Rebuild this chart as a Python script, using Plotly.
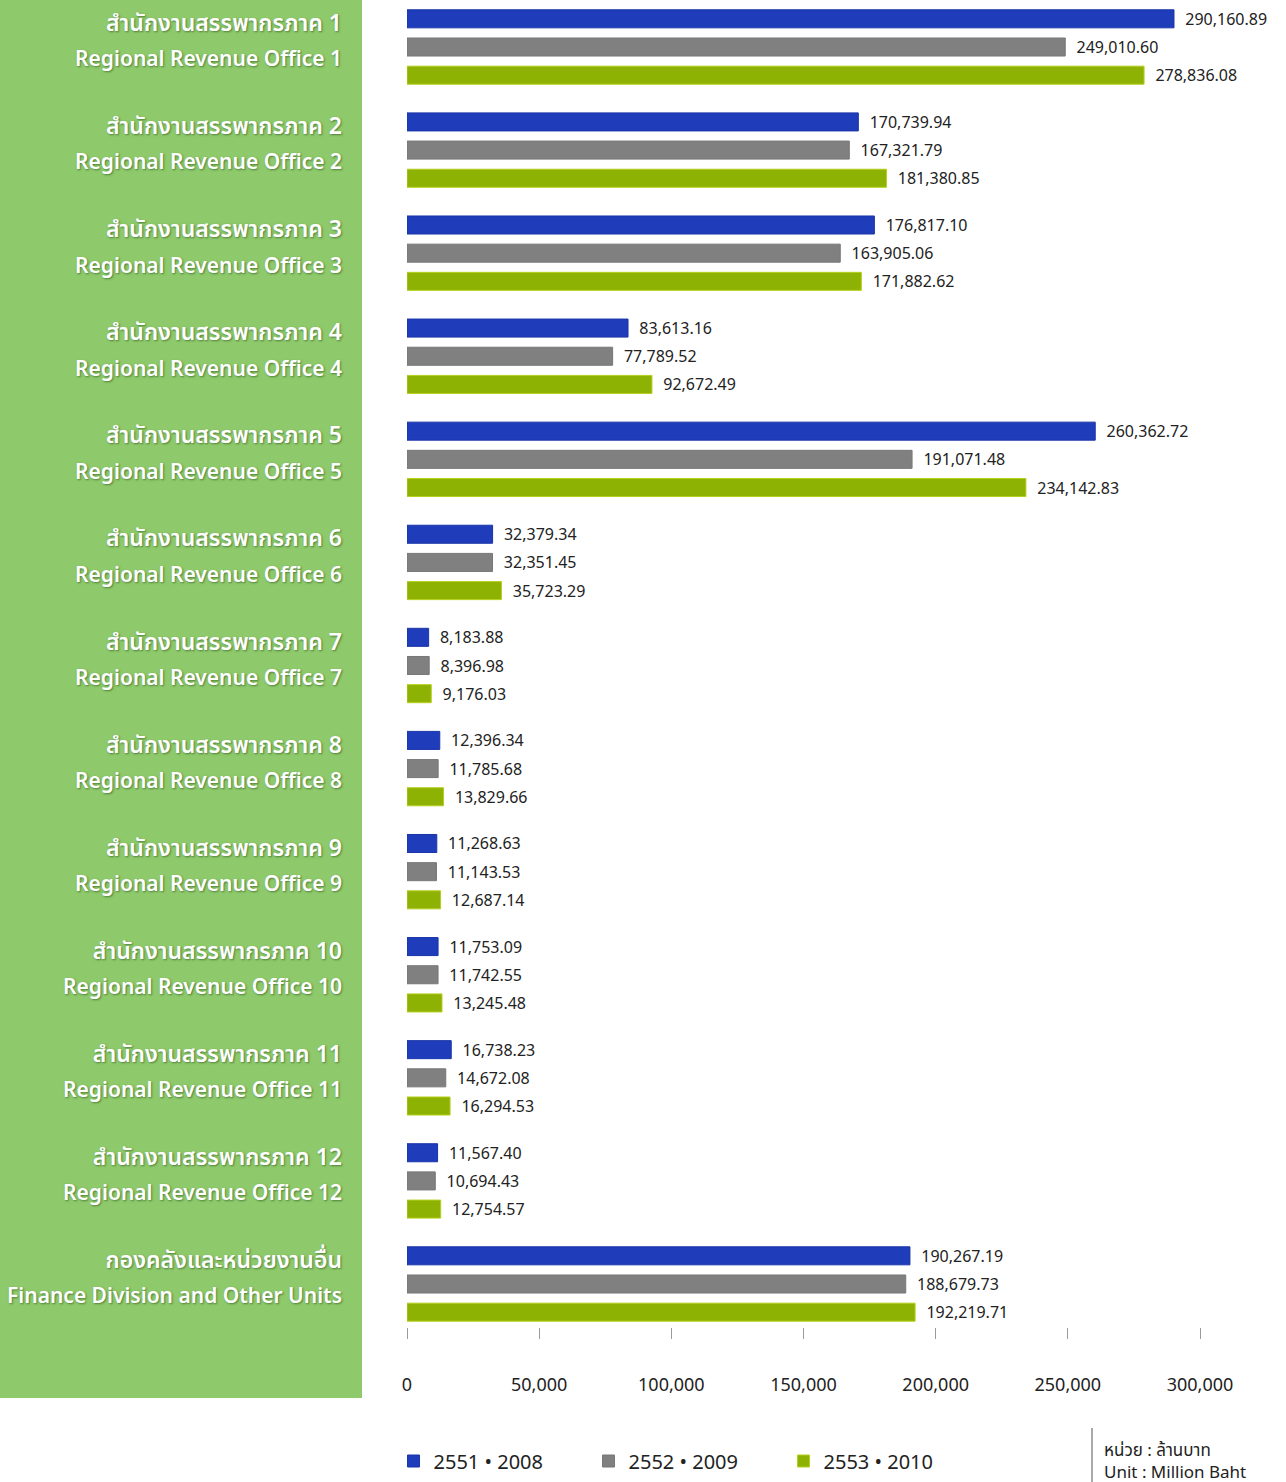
import plotly.graph_objects as go

thai_labels = [
    "สำนักงานสรรพากรภาค 1", "สำนักงานสรรพากรภาค 2", "สำนักงานสรรพากรภาค 3",
    "สำนักงานสรรพากรภาค 4", "สำนักงานสรรพากรภาค 5", "สำนักงานสรรพากรภาค 6",
    "สำนักงานสรรพากรภาค 7", "สำนักงานสรรพากรภาค 8", "สำนักงานสรรพากรภาค 9",
    "สำนักงานสรรพากรภาค 10", "สำนักงานสรรพากรภาค 11", "สำนักงานสรรพากรภาค 12",
    "กองคลังและหน่วยงานอื่น",
]
english_labels = [
    "Regional Revenue Office 1", "Regional Revenue Office 2", "Regional Revenue Office 3",
    "Regional Revenue Office 4", "Regional Revenue Office 5", "Regional Revenue Office 6",
    "Regional Revenue Office 7", "Regional Revenue Office 8", "Regional Revenue Office 9",
    "Regional Revenue Office 10", "Regional Revenue Office 11", "Regional Revenue Office 12",
    "Finance Division and Other Units",
]
series_names = ["2551 • 2008", "2552 • 2009", "2553 • 2010"]
values_2551 = [290160.89, 170739.94, 176817.10, 83613.16, 260362.72, 32379.34, 8183.88,
               12396.34, 11268.63, 11753.09, 16738.23, 11567.40, 190267.19]
values_2552 = [249010.60, 167321.79, 163905.06, 77789.52, 191071.48, 32351.45, 8396.98,
               11785.68, 11143.53, 11742.55, 14672.08, 10694.43, 188679.73]
values_2553 = [278836.08, 181380.85, 171882.62, 92672.49, 234142.83, 35723.29, 9176.03,
               13829.66, 12687.14, 13245.48, 16294.53, 12754.57, 192219.71]
x_ticks = [0, 50000, 100000, 150000, 200000, 250000, 300000]
x_tick_labels = ["0", "50,000", "100,000", "150,000", "200,000", "250,000", "300,000"]

colors = ["#1f3cba", "#808080", "#8db204"]
line_colors = ["#1a35a8", "#777777", "#b5cf1c"]
positions = list(range(len(thai_labels)))

W, H = 1286, 1482
L, R = 407, 1200
T, B = 0, 1327
pw, ph = R - L, B - T

FONT = "Noto Sans, Noto Sans Thai, DejaVu Sans, sans-serif"

fig = go.Figure()
for name, vals, c, lc in zip(series_names, [values_2551, values_2552, values_2553], colors, line_colors):
    fig.add_trace(go.Bar(
        y=positions, x=vals, name=name, orientation="h",
        marker=dict(color=c, line=dict(color=lc, width=1)),
        text=vals, texttemplate="  %{x:,.2f}", textposition="outside",
        constraintext="none",
        textfont=dict(family=FONT, size=16, color="#222222"),
        cliponaxis=False,
    ))

y_range = [12 + 43 / 103.08, -47 / 103.08]

fig.update_layout(
    width=W, height=H,
    margin=dict(l=L, r=W - R, t=T, b=H - B, pad=0),
    paper_bgcolor="white", plot_bgcolor="white",
    barmode="group", bargap=0.18, bargroupgap=0.36,
    showlegend=True,
    legend=dict(
        orientation="h", x=-0.017, y=1 - (1461 - T) / ph, xanchor="left", yanchor="middle",
        font=dict(family=FONT, size=20, color="#222222"),
        entrywidth=150, entrywidthmode="pixels", traceorder="normal",
        bgcolor="rgba(0,0,0,0)",
    ),
    xaxis=dict(
        range=[0, 300000], tickvals=x_ticks, ticktext=x_tick_labels,
        showgrid=False, zeroline=False, showline=False,
        ticks="outside", ticklen=11, tickcolor="#9a9a9a", tickwidth=1,
        ticklabelstandoff=30,
        tickfont=dict(family=FONT, size=18, color="#222222"),
    ),
    yaxis=dict(
        range=y_range, tickmode="array", tickvals=positions, ticktext=thai_labels,
        showgrid=False, zeroline=False, showline=False, ticks="",
        ticklabelstandoff=64, ticklabelshift=24,
        tickfont=dict(family=FONT, size=23, color="white", weight=600,
                      shadow="1px 1px 2px rgba(30,70,20,0.55)"),
    ),
    yaxis2=dict(
        range=y_range, overlaying="y", side="left", tickmode="array",
        tickvals=positions, ticktext=english_labels,
        showgrid=False, zeroline=False, showline=False, ticks="",
        ticklabelstandoff=64, ticklabelshift=-12,
        tickfont=dict(family=FONT, size=21, color="white", weight=600,
                      shadow="1px 1px 2px rgba(30,70,20,0.55)"),
    ),
)

# invisible anchor trace so the secondary label axis is rendered
fig.add_trace(go.Scatter(x=[None], y=[None], yaxis="y2", showlegend=False, hoverinfo="skip"))

# green label panel
fig.add_shape(type="rect", xref="paper", yref="paper", layer="below",
              x0=-L / pw, x1=(362 - L) / pw, y0=1 - (1398 - T) / ph, y1=1.0 + T / ph + 0.01,
              fillcolor="#8ec96b", line=dict(width=0))

# unit note
fig.add_shape(type="line", xref="paper", yref="paper",
              x0=(1092 - L) / pw, x1=(1092 - L) / pw,
              y0=1 - (1482 - T) / ph, y1=1 - (1428 - T) / ph,
              line=dict(color="#555555", width=1))
fig.add_annotation(xref="paper", yref="paper", x=(1102 - L) / pw, y=1 - (1460 - T) / ph,
                   xanchor="left", yanchor="middle", align="left", showarrow=False,
                   text="หน่วย : ล้านบาท<br>Unit : Million Baht",
                   font=dict(family=FONT, size=17, color="#222222"))

fig.write_html("out.html", config={"displayModeBar": False},
               post_script="document.body.style.margin='0';document.body.style.overflow='hidden';")
